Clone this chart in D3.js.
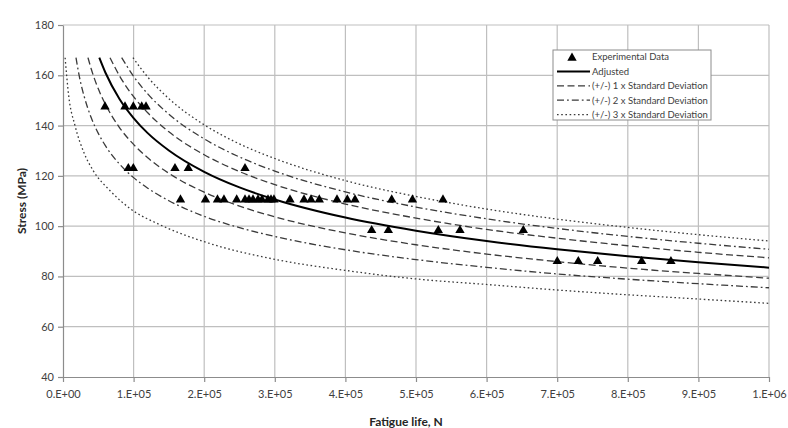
<!DOCTYPE html>
<html>
<head>
<meta charset="utf-8">
<script src="https://cdn.jsdelivr.net/npm/d3@7"></script>
<style>
  body { margin: 0; background: #fff; }
  svg text { font-family: Lato, "Open Sans", sans-serif; }
</style>
</head>
<body>
<div id="chart"></div>
<script>
// axis ticks
const xTickValues = [0, 1e5, 2e5, 3e5, 4e5, 5e5, 6e5, 7e5, 8e5, 9e5, 1e6];
const xTickLabels = ["0.E+00", "1.E+05", "2.E+05", "3.E+05", "4.E+05", "5.E+05", "6.E+05", "7.E+05", "8.E+05", "9.E+05", "1.E+06"];
const yTickValues = [40, 60, 80, 100, 120, 140, 160, 180];

// experimental data (fatigue life N, stress MPa)
const expN = [59500, 87800, 99600, 111500, 117600,
  92500, 99600, 158600, 177500, 257800,
  166400, 201800, 218800, 228000, 246000, 257800, 263500, 269100, 276200, 281900, 290400, 294600,
  298800, 321500, 341400, 351300, 363000, 388100, 402700, 413600, 465600, 495000, 538200,
  437200, 460800, 531600, 562300, 652000,
  700100, 729900, 757300, 819600, 861100];
const expS = [147.5, 147.5, 147.5, 147.5, 147.5,
  123, 123, 123, 123, 123,
  110.5, 110.5, 110.5, 110.5, 110.5, 110.5, 110.5, 110.5, 110.5, 110.5, 110.5, 110.5,
  110.5, 110.5, 110.5, 110.5, 110.5, 110.5, 110.5, 110.5, 110.5, 110.5, 110.5,
  98.3, 98.3, 98.3, 98.3, 98.3,
  86, 86, 86, 86, 86];

// adjusted curve
const adjN = [51400, 60000, 80000, 100000, 120000, 150000, 200000, 250000, 300000, 400000, 500000, 600000, 700000, 800000, 900000, 1000000];
const adjS = [167, 161.1, 150.6, 143.0, 137.0, 130.1, 121.6, 115.4, 110.6, 103.4, 98.2, 94.1, 90.8, 88.0, 85.6, 83.5];

// +/- standard deviation curves
const plus1N = [66600, 80000, 100000, 120000, 150000, 200000, 250000, 300000, 400000, 500000, 600000, 700000, 800000, 900000, 1000000];
const plus1S = [167, 159.8, 151.5, 145.1, 137.5, 128.4, 121.7, 116.5, 108.8, 103.2, 98.7, 95.2, 92.2, 89.6, 87.4];
const plus2N = [83100, 100000, 120000, 150000, 200000, 250000, 300000, 400000, 500000, 600000, 700000, 800000, 900000, 1000000];
const plus2S = [167, 159.6, 152.6, 144.5, 134.7, 127.5, 121.9, 113.6, 107.6, 102.9, 99.1, 95.9, 93.2, 90.8];
const plus3N = [99100, 120000, 150000, 200000, 250000, 300000, 400000, 500000, 600000, 700000, 800000, 900000, 1000000];
const plus3S = [167, 159.3, 150.7, 140.3, 132.7, 126.9, 118.1, 111.8, 106.8, 102.8, 99.5, 96.6, 94.1];
const minus1N = [35400, 40000, 50000, 60000, 80000, 100000, 120000, 150000, 200000, 250000, 300000, 400000, 500000, 600000, 700000, 800000, 900000, 1000000];
const minus1S = [167, 162.5, 154.6, 148.5, 139.2, 132.5, 127.2, 121.0, 113.5, 108.0, 103.7, 97.3, 92.6, 88.9, 85.9, 83.3, 81.2, 79.3];
const minus2N = [18400, 20000, 25000, 30000, 40000, 50000, 60000, 80000, 100000, 120000, 150000, 200000, 250000, 300000, 400000, 500000, 600000, 700000, 800000, 900000, 1000000];
const minus2S = [167, 164.3, 157.1, 151.6, 143.1, 136.9, 132.0, 124.7, 119.3, 115.1, 110.1, 103.9, 99.4, 95.9, 90.6, 86.7, 83.6, 81.0, 78.9, 77.1, 75.5];
const minus3N = [3000, 8000, 17000, 30000, 43000, 67000, 95000, 137000, 200000, 300000, 400000, 500000, 600000, 700000, 800000, 900000, 1000000];
const minus3S = [167, 152, 140, 129, 122, 114, 107, 100.6, 93.8, 86.8, 82.4, 79.0, 76.8, 74.6, 72.7, 71.0, 69.3];

const legendLabels = ["Experimental Data", "Adjusted", "(+/-) 1 x Standard Deviation", "(+/-) 2 x Standard Deviation", "(+/-) 3 x Standard Deviation"];

// line styles
const styles = {
  solid: { dash: null, width: 2, color: "#000" },
  sd1: { dash: "7,3.5", width: 1.3, color: "#3a3a3a" },
  sd2: { dash: "7,3,1.8,3", width: 1.3, color: "#3a3a3a" },
  sd3: { dash: "1.6,2.6", width: 1.3, color: "#3a3a3a" }
};

const zip = (ns, ss) => ns.map((n, i) => ({ n: n, s: ss[i] }));
const curves = [
  { pts: zip(plus3N, plus3S), style: styles.sd3 },
  { pts: zip(plus2N, plus2S), style: styles.sd2 },
  { pts: zip(plus1N, plus1S), style: styles.sd1 },
  { pts: zip(minus1N, minus1S), style: styles.sd1 },
  { pts: zip(minus2N, minus2S), style: styles.sd2 },
  { pts: zip(minus3N, minus3S), style: styles.sd3 },
  { pts: zip(adjN, adjS), style: styles.solid }
];

const W = 788, H = 428;
const svg = d3.select("#chart").append("svg")
  .attr("width", W)
  .attr("height", H);

const x = d3.scaleLinear().domain([0, 1e6]).range([63, 769]);
const y = d3.scaleLinear().domain([40, 180]).range([377, 25]);

// grid
svg.append("g").selectAll("line")
  .data(yTickValues.slice(1))
  .enter().append("line")
  .attr("x1", x(0)).attr("x2", x(1e6))
  .attr("y1", d => y(d)).attr("y2", d => y(d))
  .attr("stroke", "#bfbfbf").attr("stroke-width", 1.2);

svg.append("g").selectAll("line")
  .data(xTickValues.slice(1))
  .enter().append("line")
  .attr("x1", d => x(d)).attr("x2", d => x(d))
  .attr("y1", y(40)).attr("y2", y(180))
  .attr("stroke", "#bfbfbf").attr("stroke-width", 1.2);

// axes
const xAxis = svg.append("g")
  .attr("transform", "translate(0," + y(40) + ")")
  .call(d3.axisBottom(x).tickValues(xTickValues).tickFormat((d, i) => xTickLabels[i]).tickSize(5).tickSizeOuter(0).tickPadding(8));

const yAxis = svg.append("g")
  .attr("transform", "translate(" + x(0) + ",0)")
  .call(d3.axisLeft(y).tickValues(yTickValues).tickSize(5).tickSizeOuter(0).tickPadding(4));

[xAxis, yAxis].forEach(ax => {
  ax.select(".domain").attr("stroke", "#8c8c8c").attr("stroke-width", 1.2);
  ax.selectAll(".tick line").attr("stroke", "#8c8c8c").attr("stroke-width", 1.2);
  ax.selectAll(".tick text")
    .attr("fill", "#404040")
    .style("font-size", "11px")
    .style("font-family", "Lato, sans-serif");
});

// axis titles
svg.append("text")
  .attr("x", 406).attr("y", 426)
  .attr("text-anchor", "middle")
  .attr("font-size", 12).attr("font-weight", "bold").attr("fill", "#262626")
  .text("Fatigue life, N");

svg.append("text")
  .attr("transform", "translate(26,201) rotate(-90)")
  .attr("text-anchor", "middle")
  .attr("font-size", 12).attr("font-weight", "bold").attr("fill", "#262626")
  .text("Stress (MPa)");

// curves
const line = d3.line()
  .x(d => x(d.n))
  .y(d => y(d.s))
  .curve(d3.curveMonotoneX);

svg.append("g").selectAll("path")
  .data(curves)
  .enter().append("path")
  .attr("fill", "none")
  .attr("stroke", d => d.style.color)
  .attr("stroke-width", d => d.style.width)
  .attr("stroke-dasharray", d => d.style.dash)
  .attr("d", d => line(d.pts));

// experimental points
const tri = d3.symbol().type(d3.symbolTriangle).size(38);
svg.append("g").selectAll("path")
  .data(zip(expN, expS))
  .enter().append("path")
  .attr("d", tri)
  .attr("transform", d => "translate(" + x(d.n) + "," + y(d.s) + ")")
  .attr("fill", "#000");

// legend
const lg = svg.append("g").attr("transform", "translate(553,50)");
lg.append("rect")
  .attr("width", 158).attr("height", 70)
  .attr("fill", "#fff").attr("stroke", "#8c8c8c").attr("stroke-width", 1);

const legendStyles = [null, styles.solid, styles.sd1, styles.sd2, styles.sd3];
legendLabels.forEach((lab, i) => {
  const ry = 7 + i * 14.4;
  if (i === 0) {
    lg.append("path").attr("d", tri).attr("transform", "translate(19," + (ry + 1) + ")").attr("fill", "#000");
  } else {
    const st = legendStyles[i];
    lg.append("line")
      .attr("x1", 4).attr("x2", 37).attr("y1", ry).attr("y2", ry)
      .attr("stroke", st.color).attr("stroke-width", st.width)
      .attr("stroke-dasharray", st.dash);
  }
  lg.append("text")
    .attr("x", 39).attr("y", ry + 3.3)
    .attr("font-size", 9.5).attr("fill", "#404040")
    .text(lab);
});
</script>
</body>
</html>
